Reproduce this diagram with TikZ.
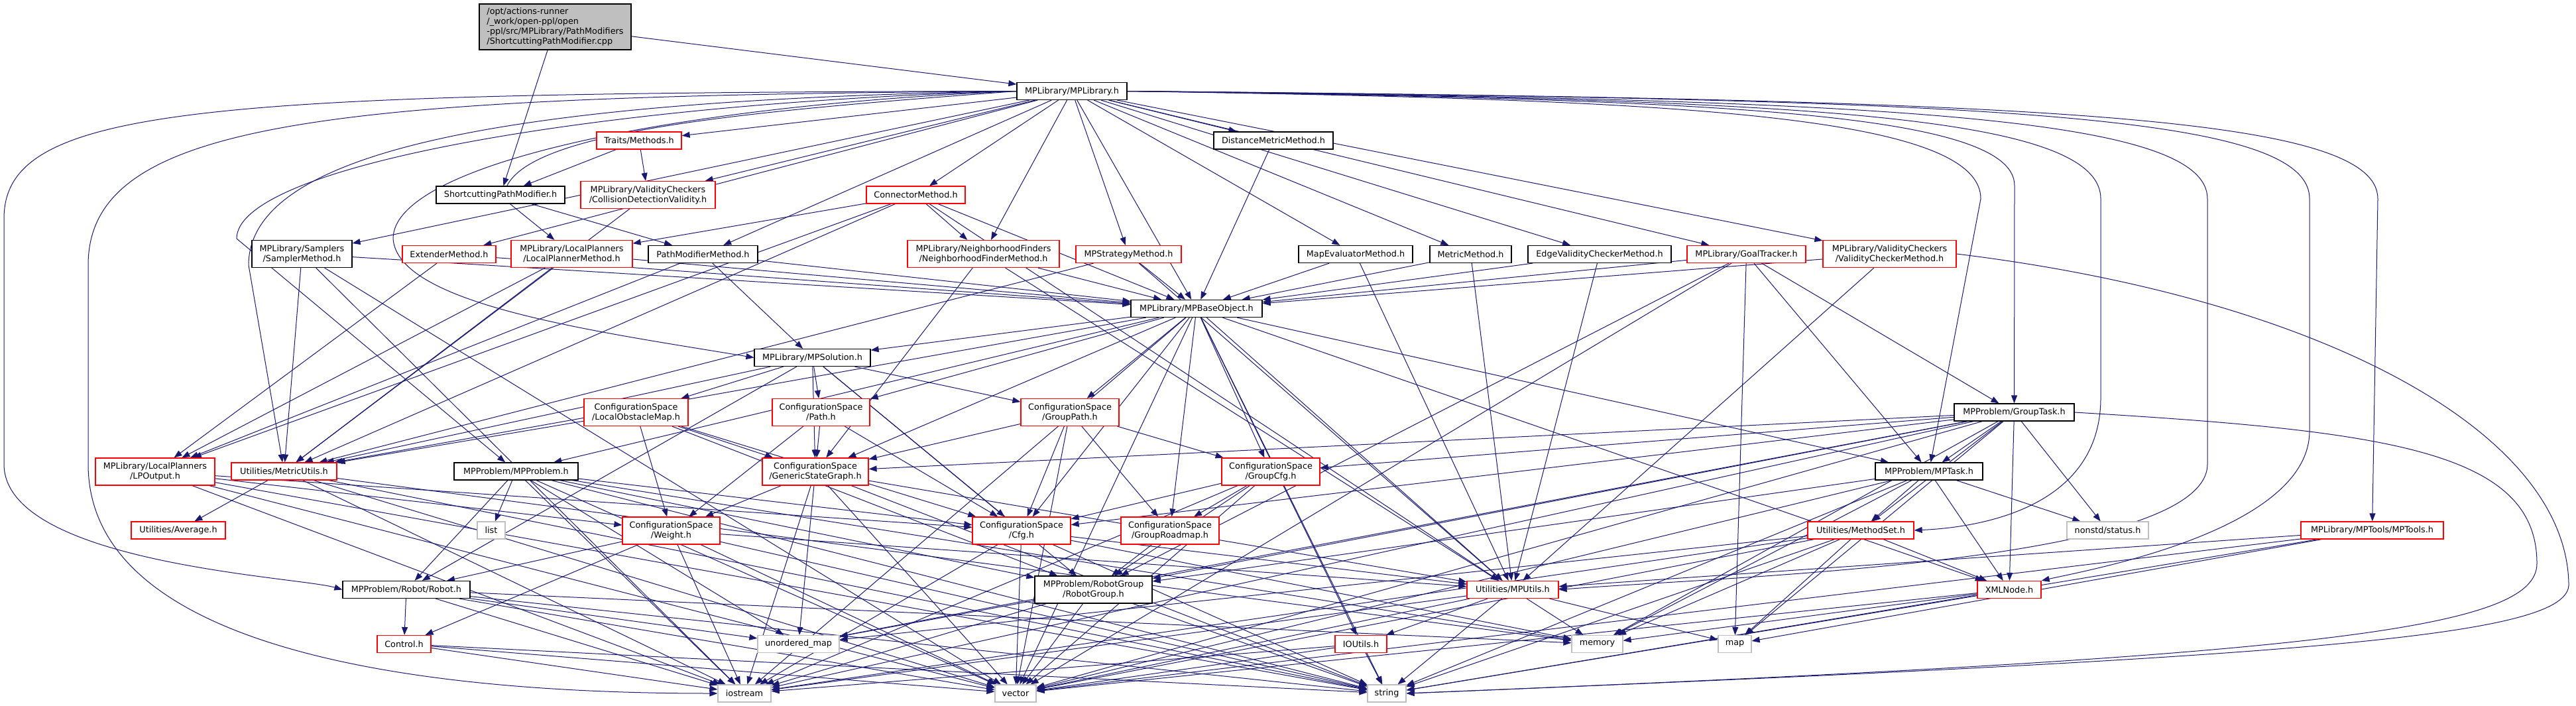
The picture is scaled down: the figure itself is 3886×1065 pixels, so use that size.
\documentclass[tikz,border=0pt]{standalone}
\usepackage{fontspec}
\setsansfont{DejaVu Sans}
\usepackage{tikz}
\usetikzlibrary{arrows.meta}
\definecolor{edgeblue}{RGB}{25,25,112}
\definecolor{sysgray}{RGB}{191,191,191}
\pgfdeclarelayer{bg}
\pgfsetlayers{bg,main}

\begin{document}
\begin{tikzpicture}[x=0.5pt, y=-0.5pt,
		file/.style={draw=black, fill=white, line width=0.6pt, inner sep=0pt,
		             minimum height=13pt, align=center,
		             font=\sffamily\fontsize{6.4}{7.5}\selectfont},
		twoline/.style={minimum height=20.5pt},
		trunc/.style={file, draw=red},
		sys/.style={file, draw=sysgray},
		dep/.style={edgeblue, line width=0.5pt, -{Triangle[length=6pt,width=4.5pt]}}]
	\useasboundingbox (0,0) rectangle (3886,1065);
	% top rows
	\node[file, fill=sysgray, align=left, minimum width=114.5pt, minimum height=34.5pt] (root) at (837.5,40.5)
		{/opt/actions-runner\\/\_work/open-ppl/open\\-ppl/src/MPLibrary/PathModifiers\\/ShortcuttingPathModifier.cpp};
	\node[file, minimum width=83pt] (lib) at (1617,137.5) {MPLibrary/MPLibrary.h};
	\node[trunc, minimum width=64pt] (traits) at (964,212) {Traits/Methods.h};
	\node[file, minimum width=90pt] (dmm) at (1921,212) {DistanceMetricMethod.h};
	\node[file, minimum width=97pt] (spm) at (755,294) {ShortcuttingPathModifier.h};
	\node[trunc, twoline, minimum width=101.5pt] (cdv) at (977.5,294) {MPLibrary/ValidityCheckers\\/CollisionDetectionValidity.h};
	\node[trunc, minimum width=74.5pt] (conn) at (1381.5,294) {ConnectorMethod.h};
	% method row
	\node[file, twoline, minimum width=75.5pt] (samp) at (455.5,383) {MPLibrary/Samplers\\/SamplerMethod.h};
	\node[trunc, minimum width=70.5pt] (ext) at (677.5,383.5) {ExtenderMethod.h};
	\node[trunc, twoline, minimum width=91.5pt] (lpm) at (862.5,383) {MPLibrary/LocalPlanners\\/LocalPlannerMethod.h};
	\node[file, minimum width=82.5pt] (pmm) at (1060.5,383.5) {PathModifierMethod.h};
	\node[trunc, twoline, minimum width=114.5pt] (nfm) at (1483.5,383) {MPLibrary/NeighborhoodFinders\\/NeighborhoodFinderMethod.h};
	\node[trunc, minimum width=79.5pt] (strat) at (1702.5,383.5) {MPStrategyMethod.h};
	\node[file, minimum width=86pt] (mem) at (2045,383.5) {MapEvaluatorMethod.h};
	\node[file, minimum width=61.5pt] (met) at (2218.5,383.5) {MetricMethod.h};
	\node[file, minimum width=108pt] (evc) at (2413,383.5) {EdgeValidityCheckerMethod.h};
	\node[trunc, minimum width=89.5pt] (goal) at (2634.5,383.5) {MPLibrary/GoalTracker.h};
	\node[trunc, twoline, minimum width=100.5pt] (vcm) at (2850.5,383) {MPLibrary/ValidityCheckers\\/ValidityCheckerMethod.h};
	\node[file, minimum width=99pt] (base) at (1805,465.5) {MPLibrary/MPBaseObject.h};
	\node[file, minimum width=87.5pt] (sol) at (1225.5,539.5) {MPLibrary/MPSolution.h};
	% configuration space
	\node[trunc, twoline, minimum width=78.5pt] (lom) at (959.5,622) {ConfigurationSpace\\/LocalObstacleMap.h};
	\node[trunc, twoline, minimum width=73.5pt] (cspath) at (1238.5,622) {ConfigurationSpace\\/Path.h};
	\node[trunc, twoline, minimum width=74pt] (gpath) at (1614,622) {ConfigurationSpace\\/GroupPath.h};
	\node[file, minimum width=90.5pt] (gtask) at (3038.5,622) {MPProblem/GroupTask.h};
	\node[trunc, twoline, minimum width=90pt] (lpo) at (234,711.5) {MPLibrary/LocalPlanners\\/LPOutput.h};
	\node[trunc, minimum width=79.5pt] (mu) at (428.5,711) {Utilities/MetricUtils.h};
	\node[file, minimum width=93.5pt] (prob) at (778.5,711) {MPProblem/MPProblem.h};
	\node[trunc, twoline, minimum width=80pt] (gsg) at (1230,711.5) {ConfigurationSpace\\/GenericStateGraph.h};
	\node[trunc, twoline, minimum width=74pt] (gcfg) at (1917,711.5) {ConfigurationSpace\\/GroupCfg.h};
	\node[file, minimum width=81pt] (task) at (2910,711) {MPProblem/MPTask.h};
	\node[trunc, minimum width=71pt] (avg) at (269,800) {Utilities/Average.h};
	\node[sys, minimum width=21pt] (nlist) at (741,800) {list};
	\node[trunc, twoline, minimum width=73.5pt] (weight) at (1012.5,800.5) {ConfigurationSpace\\/Weight.h};
	\node[trunc, twoline, minimum width=74pt] (cfg) at (1541,800.5) {ConfigurationSpace\\/Cfg.h};
	\node[trunc, twoline, minimum width=74pt] (grm) at (1765,800.5) {ConfigurationSpace\\/GroupRoadmap.h};
	\node[trunc, minimum width=80pt] (ms) at (2807,800) {Utilities/MethodSet.h};
	\node[sys, minimum width=61.5pt] (status) at (3179.5,800) {nonstd/status.h};
	\node[trunc, minimum width=107.5pt] (tools) at (3578.5,800) {MPLibrary/MPTools/MPTools.h};
	\node[file, minimum width=96pt] (robot) at (613,889.5) {MPProblem/Robot/Robot.h};
	\node[file, twoline, minimum width=88.5pt] (rg) at (1649.5,889.5) {MPProblem/RobotGroup\\/RobotGroup.h};
	\node[trunc, minimum width=69pt] (mpu) at (2282,889.5) {Utilities/MPUtils.h};
	\node[trunc, minimum width=48pt] (xml) at (3031,889.5) {XMLNode.h};
	% leaves
	\node[trunc, minimum width=40.5pt] (control) at (609.5,971.5) {Control.h};
	\node[sys, minimum width=61.5pt] (umap) at (1204.5,971.5) {unordered\_map};
	\node[trunc, minimum width=39pt] (ioutils) at (2053,971.5) {IOUtils.h};
	\node[sys, minimum width=38.5pt] (memory) at (2409.5,971.5) {memory};
	\node[sys, minimum width=25pt] (map) at (2617,971.5) {map};
	\node[sys, minimum width=40pt] (iostream) at (1123,1046) {iostream};
	\node[sys, minimum width=31pt] (vector) at (1532,1046) {vector};
	\node[sys, minimum width=29pt] (string) at (2092,1046) {string};

	\begin{pgfonlayer}{bg}
		\foreach \src/\dst in {root/spm, root/lib,
				lib/traits, lib/cdv, lib/dmm, lib/conn, lib/samp, lib/ext, lib/pmm, lib/nfm,
				lib/strat, lib/base, lib/mem, lib/met, lib/evc, lib/goal, lib/vcm,
				traits/spm, traits/cdv, spm/pmm, cdv/mu, dmm/base,
				conn/lpm, conn/nfm, conn/base, conn/mu, conn/lpo, conn/mpu,
				samp/base, samp/mu, samp/vector, samp/iostream,
				ext/base, ext/lpo, lpm/base, lpm/lpo, lpm/mu, pmm/base, pmm/lpo, pmm/sol,
				nfm/base, nfm/gsg, nfm/mpu, strat/base, strat/mu, strat/mpu,
				mem/base, mem/mpu, met/base, met/mpu, evc/base, evc/mpu,
				goal/base, goal/task, goal/gtask, goal/rg, goal/map, goal/vector,
				vcm/base, vcm/mpu}
			\draw[dep] (\src) -- (\dst);
		\foreach \src/\dst in {base/sol, base/cspath, base/gpath, base/gsg, base/gcfg, base/grm, base/cfg,
				base/prob, base/mu, base/mpu, base/ioutils, base/task, base/xml, base/iostream, base/string, base/vector,
				sol/lom, sol/cspath, sol/gpath, sol/gsg, sol/mu, sol/robot, sol/rg, sol/cfg,
				lom/mu, lom/weight, lom/gsg, lom/cfg, lom/rg,
				cspath/weight, cspath/gsg, cspath/cfg,
				gpath/gsg, gpath/gcfg, gpath/cfg, gpath/grm, gpath/vector,
				gtask/task, gtask/status, gtask/xml, gtask/gcfg, gtask/cfg, gtask/gsg, gtask/rg, gtask/ms,
				gtask/memory, gtask/map, gtask/umap, gtask/iostream, gtask/vector,
				lpo/weight, lpo/cfg, lpo/iostream, lpo/vector, lpo/string,
				mu/avg, mu/iostream, mu/vector, mu/string, mu/memory,
				prob/nlist, prob/robot, prob/rg, prob/cfg, prob/umap, prob/iostream, prob/vector, prob/string, prob/memory,
				gsg/weight, gsg/umap, gsg/iostream, gsg/vector, gsg/string, gsg/mpu,
				gcfg/cfg, gcfg/grm, gcfg/rg, gcfg/vector, gcfg/iostream,
				task/ms, task/xml, task/status, task/rg, task/memory, task/string, task/vector}
			\draw[dep] (\src) -- (\dst);
		\foreach \src/\dst in {weight/control, weight/robot, weight/mpu, weight/iostream, weight/vector, weight/string,
				cfg/mpu, cfg/vector, cfg/iostream, cfg/string, cfg/memory, grm/rg,
				ms/xml, ms/map, ms/memory, ms/string, ms/vector, ms/iostream, ms/umap,
				tools/mpu, tools/map, tools/string, tools/vector,
				robot/control, robot/umap, robot/iostream, robot/vector, robot/string, robot/memory,
				rg/iostream, rg/vector, rg/string, rg/umap,
				mpu/ioutils, mpu/memory, mpu/string, mpu/map, mpu/iostream, mpu/vector,
				xml/memory, xml/string, xml/vector,
				control/iostream, control/vector, control/string,
				ioutils/iostream, ioutils/vector, ioutils/string}
			\draw[dep] (\src) -- (\dst);
		% long loops round the sides
		\draw[dep] (lib.west) .. controls (300,140) and (6,160) .. (6,330) -- (6,700)
			.. controls (6,850) and (450,870) .. (robot.west);
		\draw[dep] (lib.west) .. controls (500,145) and (133,180) .. (133,400) -- (133,700)
			.. controls (133,1000) and (700,1046) .. (iostream.west);
		\draw[dep] (lib.west) .. controls (800,150) and (375,220) .. (375,400) -- (mu);
		\draw[dep] (lib.west) .. controls (900,155) and (357,250) .. (357,360) -- (prob);
		\draw[dep] (lib.west) .. controls (1000,160) and (593,250) .. (593,360)
			.. controls (600,460) and (900,500) .. (sol.west);
		\draw[dep] (lib.west) .. controls (1100,170) and (760,200) .. (760,300) -- (lpm);
		\draw[dep] (lib.east) .. controls (2500,150) and (2988,170) .. (2988,300) -- (task);
		\draw[dep] (lib.east) .. controls (2550,150) and (3039,165) .. (3039,280) -- (gtask);
		\draw[dep] (lib.east) .. controls (2700,150) and (3169,170) .. (3169,300) -- (3169,600)
			.. controls (3169,760) and (3000,795) .. (ms.east);
		\draw[dep] (lib.east) .. controls (2850,150) and (3330,175) .. (3330,300) -- (3330,700)
			.. controls (3330,850) and (2600,870) .. (mpu.east);
		\draw[dep] (lib.east) .. controls (3000,150) and (3484,170) .. (3484,300) -- (3484,650)
			.. controls (3484,800) and (3150,860) .. (xml.north east);
		\draw[dep] (lib.east) .. controls (3100,150) and (3587,175) .. (3587,300) -- (tools);
		\draw[dep] (vcm.east) .. controls (3500,450) and (3870,650) .. (3875,880)
			.. controls (3880,960) and (3500,990) .. (string.east);
		\draw[dep] (gtask.east) .. controls (3600,650) and (3827,680) .. (3827,850)
			.. controls (3827,950) and (3500,990) .. (string.east);
	\end{pgfonlayer}
\end{tikzpicture}
\end{document}
